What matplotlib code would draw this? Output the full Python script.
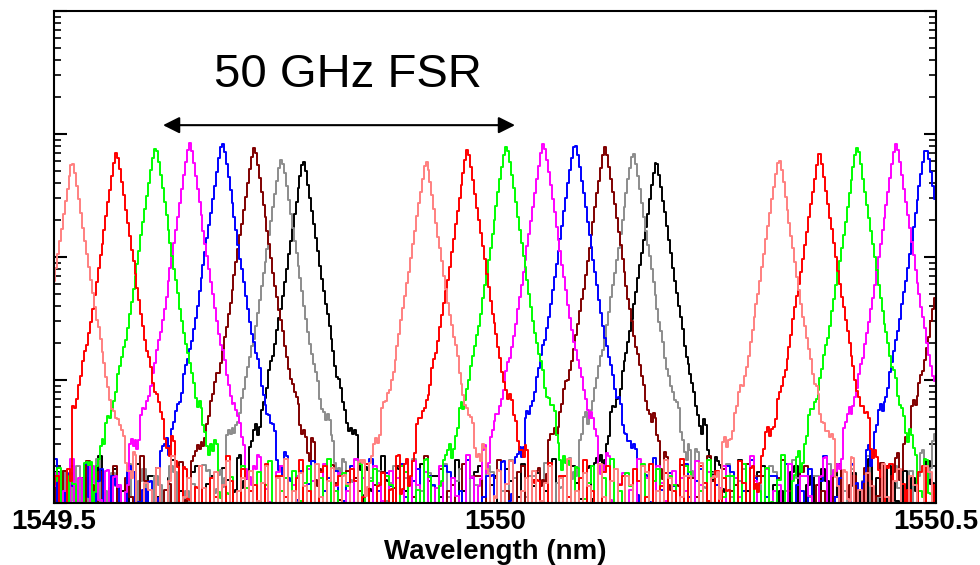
import numpy as np
import matplotlib
matplotlib.use('Agg')
import matplotlib.pyplot as plt

plt.rcParams['font.family'] = ['Liberation Sans', 'DejaVu Sans']

# one trace per channel, 8 channels, each repeating every FSR (~0.4 nm)
colors = ['#ff8080', '#ff0000', '#00ff00', '#ff00ff', '#0000ff', '#800000', '#8c8c8c', '#000000']

# peak wavelengths (nm), three orders per channel
peaks_set1 = [1549.521, 1549.571, 1549.615, 1549.654, 1549.691, 1549.727, 1549.758, 1549.783]
peaks_set2 = [1549.922, 1549.969, 1550.013, 1550.055, 1550.091, 1550.125, 1550.157, 1550.183]
peaks_set3 = [1550.322, 1550.368, 1550.411, 1550.455, 1550.489, 1550.525, 1550.556, 1550.582]

# peak levels (linear, arbitrary units, log axis)
height_set1 = [0.059, 0.069, 0.078, 0.083, 0.085, 0.076, 0.063, 0.060]
height_set2 = [0.060, 0.073, 0.080, 0.083, 0.083, 0.077, 0.070, 0.060]
height_set3 = [0.062, 0.071, 0.078, 0.082, 0.077, 0.076, 0.070, 0.060]

# peak shape: decades of drop per nm on the sides, top rounding, pedestal
slope = 51.0
rounding = 0.0017
pedestal_drop = 2.45
pedestal_width = 0.062

floor_level = 10 ** -3.9
# floor ripple in decades, read as a typical stretch of the noise floor
noise = [0.05, -0.3, -0.3, 0.2, 0.15, -0.4, -0.1, 0.0, -0.35, 0.25, 0.1, -0.2, -0.45, -0.05,
         0.12, 0.12, -0.3, -0.15, 0.22, -0.4, -0.25, 0.05, 0.0, -0.5, 0.18, -0.1, -0.3, 0.08,
         0.28, -0.2, -0.35, -0.05, 0.1, -0.45, -0.15, 0.2, 0.02, -0.3, -0.1, 0.15, -0.4, 0.05,
         0.24, -0.2, -0.5, 0.0, 0.1, -0.25, 0.16, -0.35, -0.08, 0.06, 0.2, -0.3, -0.45, 0.1,
         -0.12, 0.26, -0.2, 0.0, -0.4, 0.14, 0.04, -0.28, -0.18, 0.22, -0.05, -0.38, 0.08,
         0.18, -0.25, -0.1, 0.12]

red_start = 1549.5205  # red scan starts abruptly here

wl = np.arange(1549.5, 1550.5001, 0.0022)

fig = plt.figure(figsize=(9.8, 5.65), dpi=100)
ax = fig.add_axes([54/980, 62/565, 882/980, 492/565])

for i in reversed(range(len(colors))):
  sig = np.zeros_like(wl)
  for centers, heights in ((peaks_set1, height_set1), (peaks_set2, height_set2), (peaks_set3, height_set3)):
    dx = wl - centers[i]
    drop = slope * (np.sqrt(dx**2 + rounding**2) - rounding)
    ped = pedestal_drop + 0.43 * (np.abs(dx) / pedestal_width) ** 6
    sig += heights[i] * (10 ** -drop + 10 ** -ped)
  n = np.resize(np.repeat(noise, 2), len(wl))
  n = np.roll(n, 11 * i + 5)
  if i % 2:
    n = n[::-1]
  sig = sig * 10 ** (0.02 * n)
  if i == 1:
    sig[wl < red_start] = 0
  y = sig + floor_level * 10 ** n
  ax.plot(wl, y, color=colors[i], lw=1.4, drawstyle='steps-mid')

ax.set_yscale('log')
ax.set_xlim(1549.5, 1550.5)
ax.set_ylim(1e-4, 1)
ax.set_xticks([1549.5, 1550, 1550.5])
ax.set_xticklabels(['1549.5', '1550', '1550.5'], fontsize=20, fontweight='bold')
ax.tick_params(axis='x', length=0, pad=4)
ax.tick_params(axis='y', which='both', direction='in', left=True, right=True, labelleft=False)
ax.tick_params(axis='y', which='major', length=9, width=1.5)
ax.tick_params(axis='y', which='minor', length=5, width=1.2)
for s in ax.spines.values():
  s.set_linewidth(1.5)
ax.set_xlabel('Wavelength (nm)', fontsize=20, fontweight='bold', va='baseline')
ax.xaxis.set_label_coords(0.5, (6 - 62) / 492)

ax.annotate('', xy=(1549.6236, 0.118), xytext=(1550.0227, 0.118),
            arrowprops=dict(arrowstyle='<|-|>', color='black', lw=1.5, mutation_scale=25,
                            shrinkA=0, shrinkB=0))
ax.text(0.333, 0.8455, '50 GHz FSR', transform=ax.transAxes, ha='center', va='baseline', fontsize=34)

fig.savefig('out.png', dpi=100)
